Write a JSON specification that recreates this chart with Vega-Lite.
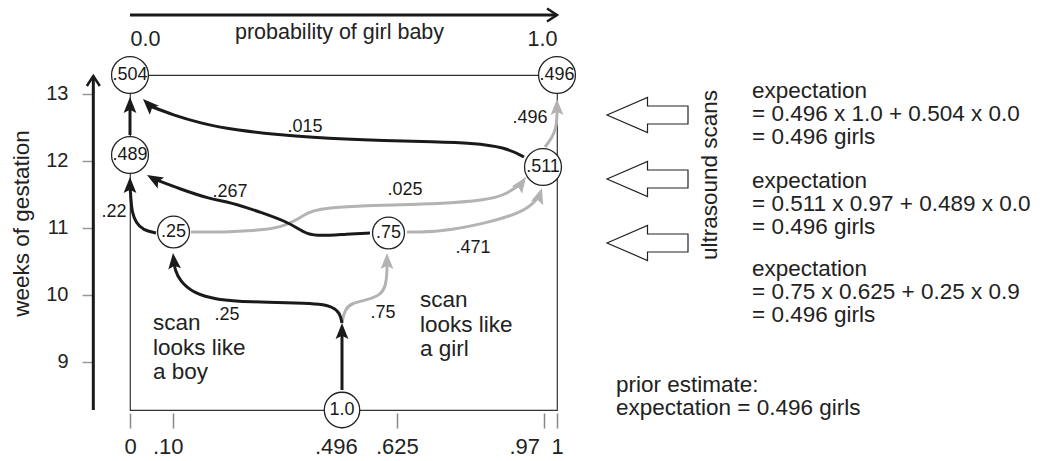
{
  "$schema": "https://vega.github.io/schema/vega-lite/v6.json",
  "width": 427,
  "height": 335,
  "autosize": {"type": "none"},
  "padding": {"left": 130, "top": 75, "right": 488, "bottom": 51},
  "background": "white",
  "config": {
    "font": "Liberation Sans",
    "view": {"stroke": "#333333", "strokeWidth": 1.2}
  },
  "datasets": {
    "edges": [
      {"edge": "e504", "kind": "boy", "x": 0, "y": 12.3845},
      {"edge": "e504", "kind": "boy", "x": 0, "y": 12.8173},
      {"edge": "e015", "kind": "boy", "x": 0.92272, "y": 12.0561},
      {"edge": "e015", "kind": "boy", "x": 0.87822, "y": 12.2054},
      {"edge": "e015", "kind": "boy", "x": 0.79625, "y": 12.2651},
      {"edge": "e015", "kind": "boy", "x": 0.726, "y": 12.28},
      {"edge": "e015", "kind": "boy", "x": 0.53864, "y": 12.3099},
      {"edge": "e015", "kind": "boy", "x": 0.39813, "y": 12.3546},
      {"edge": "e015", "kind": "boy", "x": 0.24122, "y": 12.4591},
      {"edge": "e015", "kind": "boy", "x": 0.16393, "y": 12.5636},
      {"edge": "e015", "kind": "boy", "x": 0.1007, "y": 12.683},
      {"edge": "e015", "kind": "boy", "x": 0.04684, "y": 12.8173},
      {"edge": "e496", "kind": "girl", "x": 0.9719, "y": 12.2054},
      {"edge": "e496", "kind": "girl", "x": 0.98829, "y": 12.3397},
      {"edge": "e496", "kind": "girl", "x": 0.99766, "y": 12.489},
      {"edge": "e496", "kind": "girl", "x": 1, "y": 12.6382},
      {"edge": "e496", "kind": "girl", "x": 1, "y": 12.8024},
      {"edge": "e22", "kind": "boy", "x": 0.06089, "y": 10.9218},
      {"edge": "e22", "kind": "boy", "x": 0.03044, "y": 10.9666},
      {"edge": "e22", "kind": "boy", "x": 0.01405, "y": 11.071},
      {"edge": "e22", "kind": "boy", "x": 0.00468, "y": 11.2352},
      {"edge": "e22", "kind": "boy", "x": 0.00234, "y": 11.4143},
      {"edge": "e22", "kind": "boy", "x": 0, "y": 11.6233},
      {"edge": "e267", "kind": "boy", "x": 0.56206, "y": 10.9218},
      {"edge": "e267", "kind": "boy", "x": 0.5082, "y": 10.9069},
      {"edge": "e267", "kind": "boy", "x": 0.44496, "y": 10.877},
      {"edge": "e267", "kind": "boy", "x": 0.41452, "y": 10.9069},
      {"edge": "e267", "kind": "boy", "x": 0.3911, "y": 10.9964},
      {"edge": "e267", "kind": "boy", "x": 0.36768, "y": 11.086},
      {"edge": "e267", "kind": "boy", "x": 0.31148, "y": 11.2203},
      {"edge": "e267", "kind": "boy", "x": 0.23419, "y": 11.3845},
      {"edge": "e267", "kind": "boy", "x": 0.18735, "y": 11.4293},
      {"edge": "e267", "kind": "boy", "x": 0.1171, "y": 11.5785},
      {"edge": "e267", "kind": "boy", "x": 0.05621, "y": 11.7278},
      {"edge": "e025", "kind": "girl", "x": 0.14286, "y": 10.9367},
      {"edge": "e025", "kind": "girl", "x": 0.23419, "y": 10.9367},
      {"edge": "e025", "kind": "girl", "x": 0.31148, "y": 10.9666},
      {"edge": "e025", "kind": "girl", "x": 0.35129, "y": 11.0113},
      {"edge": "e025", "kind": "girl", "x": 0.37471, "y": 11.071},
      {"edge": "e025", "kind": "girl", "x": 0.39813, "y": 11.1457},
      {"edge": "e025", "kind": "girl", "x": 0.41452, "y": 11.2203},
      {"edge": "e025", "kind": "girl", "x": 0.44496, "y": 11.28},
      {"edge": "e025", "kind": "girl", "x": 0.4918, "y": 11.3099},
      {"edge": "e025", "kind": "girl", "x": 0.58548, "y": 11.3397},
      {"edge": "e025", "kind": "girl", "x": 0.726, "y": 11.3546},
      {"edge": "e025", "kind": "girl", "x": 0.83607, "y": 11.4143},
      {"edge": "e025", "kind": "girl", "x": 0.87822, "y": 11.489},
      {"edge": "e025", "kind": "girl", "x": 0.91569, "y": 11.6531},
      {"edge": "e471", "kind": "girl", "x": 0.64871, "y": 10.9367},
      {"edge": "e471", "kind": "girl", "x": 0.726, "y": 10.9367},
      {"edge": "e471", "kind": "girl", "x": 0.83607, "y": 11.071},
      {"edge": "e471", "kind": "girl", "x": 0.91335, "y": 11.2203},
      {"edge": "e471", "kind": "girl", "x": 0.94379, "y": 11.3546},
      {"edge": "e471", "kind": "girl", "x": 0.95785, "y": 11.474},
      {"edge": "stem", "kind": "prior", "x": 0.49649, "y": 8.5785},
      {"edge": "stem", "kind": "prior", "x": 0.49649, "y": 9.3994},
      {"edge": "e25", "kind": "boy", "x": 0.49649, "y": 9.5785},
      {"edge": "e25", "kind": "boy", "x": 0.4918, "y": 9.7278},
      {"edge": "e25", "kind": "boy", "x": 0.47541, "y": 9.8173},
      {"edge": "e25", "kind": "boy", "x": 0.44496, "y": 9.8621},
      {"edge": "e25", "kind": "boy", "x": 0.39813, "y": 9.877},
      {"edge": "e25", "kind": "boy", "x": 0.28103, "y": 9.8919},
      {"edge": "e25", "kind": "boy", "x": 0.20375, "y": 9.9218},
      {"edge": "e25", "kind": "boy", "x": 0.14754, "y": 10.0263},
      {"edge": "e25", "kind": "boy", "x": 0.1171, "y": 10.2054},
      {"edge": "e25", "kind": "boy", "x": 0.10539, "y": 10.3696},
      {"edge": "e25", "kind": "boy", "x": 0.10304, "y": 10.489},
      {"edge": "e75", "kind": "girl", "x": 0.49649, "y": 9.5934},
      {"edge": "e75", "kind": "girl", "x": 0.50351, "y": 9.7875},
      {"edge": "e75", "kind": "girl", "x": 0.51991, "y": 9.877},
      {"edge": "e75", "kind": "girl", "x": 0.55504, "y": 9.9218},
      {"edge": "e75", "kind": "girl", "x": 0.58782, "y": 9.9964},
      {"edge": "e75", "kind": "girl", "x": 0.59953, "y": 10.1457},
      {"edge": "e75", "kind": "girl", "x": 0.60187, "y": 10.3397},
      {"edge": "e75", "kind": "girl", "x": 0.60187, "y": 10.489}
    ],
    "heads": [
      {"x": 0, "y": 12.9516, "heading": 0, "kind": "boy"},
      {"x": 0.03044, "y": 12.9218, "heading": 315, "kind": "boy"},
      {"x": 1, "y": 12.9218, "heading": 0, "kind": "girl"},
      {"x": 0, "y": 11.7576, "heading": 0, "kind": "boy"},
      {"x": 0.03981, "y": 11.7875, "heading": 300, "kind": "boy"},
      {"x": 0.9274, "y": 11.7576, "heading": 35, "kind": "girl"},
      {"x": 0.96487, "y": 11.5934, "heading": 18, "kind": "girl"},
      {"x": 0.1007, "y": 10.6233, "heading": 354, "kind": "boy"},
      {"x": 0.49649, "y": 9.5785, "heading": 0, "kind": "prior"},
      {"x": 0.60187, "y": 10.6233, "heading": 0, "kind": "girl"}
    ],
    "axisLines": [
      {"x": 0, "x2": 1, "y": 14.1755, "y2": 14.1755},
      {"x": -0.0859, "x2": -0.0859, "y": 8.28, "y2": 13.265}
    ],
    "axisHeads": [
      {"x": 1, "y": 14.1755, "heading": 90},
      {"x": -0.0859, "y": 13.265, "heading": 0}
    ],
    "nodes": [
      {"label": ".504", "x": 0, "y": 13.28},
      {"label": ".496", "x": 1, "y": 13.28},
      {"label": ".489", "x": 0, "y": 12.086},
      {"label": ".25", "x": 0.1019, "y": 10.9367},
      {"label": ".75", "x": 0.6054, "y": 10.9218},
      {"label": ".511", "x": 0.9672, "y": 11.9069},
      {"label": "1.0", "x": 0.4965, "y": 8.28}
    ],
    "edgeLabels": [
      {"t": ".015", "x": 0.40984, "y": 12.4293},
      {"t": ".267", "x": 0.23419, "y": 11.4591},
      {"t": ".025", "x": 0.64403, "y": 11.489},
      {"t": ".496", "x": 0.93677, "y": 12.5636},
      {"t": ".471", "x": 0.80328, "y": 10.6233},
      {"t": ".22", "x": -0.03747, "y": 11.1606},
      {"t": ".25", "x": 0.22717, "y": 9.6233},
      {"t": ".75", "x": 0.59251, "y": 9.6531}
    ],
    "notes": [
      {"t": "scan\nlooks like\na boy", "x": 0.05386, "y": 9.474},
      {"t": "scan\nlooks like\na girl", "x": 0.67916, "y": 9.8173}
    ],
    "sideNotes": [
      {"t": "expectation\n= 0.496 x 1.0 + 0.504 x 0.0\n= 0.496 girls", "x": 1.45667, "y": 12.9367},
      {"t": "expectation\n= 0.511 x 0.97 + 0.489 x 0.0\n= 0.496 girls", "x": 1.45667, "y": 11.5934},
      {"t": "expectation\n= 0.75 x 0.625 + 0.25 x 0.9\n= 0.496 girls", "x": 1.45667, "y": 10.28},
      {"t": "prior estimate:\nexpectation = 0.496 girls", "x": 1.13817, "y": 8.5487}
    ],
    "scanLabel": [
      {"t": "ultrasound scans", "x": 1.37471, "y": 11.7875}
    ],
    "scanArrows": [
      {"x": 1.21194, "y": 12.683},
      {"x": 1.21194, "y": 11.7278},
      {"x": 1.21194, "y": 10.7726}
    ]
  },
  "resolve": {"axis": {"x": "independent", "y": "independent"}},
  "layer": [
    {
      "data": {"name": "edges"},
      "transform": [{"filter": "datum.kind == 'girl'"}],
      "mark": {"type": "line", "interpolate": "basis", "strokeWidth": 3, "strokeCap": "butt"},
      "encoding": {
        "x": {"field": "x", "type": "quantitative", "scale": {"domain": [0, 1], "nice": false, "zero": false}, "axis": null},
        "y": {"field": "y", "type": "quantitative", "scale": {"domain": [8.28, 13.28], "nice": false, "zero": false}, "axis": null},
        "detail": {"field": "edge"},
        "order": {"value": null},
        "color": {"field": "kind", "type": "nominal", "scale": {"domain": ["boy", "girl", "prior"], "range": ["#1a1a1a", "#b3b3b3", "#1a1a1a"]}, "legend": null}
      }
    },
    {
      "data": {"name": "edges"},
      "transform": [{"filter": "datum.kind != 'girl'"}],
      "mark": {"type": "line", "interpolate": "basis", "strokeWidth": 3, "strokeCap": "butt"},
      "encoding": {
        "x": {"field": "x", "type": "quantitative", "scale": {"domain": [0, 1], "nice": false, "zero": false}, "axis": null},
        "y": {"field": "y", "type": "quantitative", "scale": {"domain": [8.28, 13.28], "nice": false, "zero": false}, "axis": null},
        "detail": {"field": "edge"},
        "order": {"value": null},
        "color": {"field": "kind", "type": "nominal", "scale": {"domain": ["boy", "girl", "prior"], "range": ["#1a1a1a", "#b3b3b3", "#1a1a1a"]}, "legend": null}
      }
    },
    {
      "data": {"name": "heads"},
      "mark": {"type": "point", "shape": "M0,0L0.4,1L0,0.8L-0.4,1Z", "filled": true, "size": 1024, "opacity": 1, "strokeWidth": 0},
      "encoding": {
        "x": {"field": "x", "type": "quantitative", "scale": {"domain": [0, 1], "nice": false, "zero": false}, "axis": null},
        "y": {"field": "y", "type": "quantitative", "scale": {"domain": [8.28, 13.28], "nice": false, "zero": false}, "axis": null},
        "angle": {"field": "heading", "type": "quantitative", "scale": null},
        "color": {"field": "kind", "type": "nominal", "scale": {"domain": ["boy", "girl", "prior"], "range": ["#1a1a1a", "#b3b3b3", "#1a1a1a"]}, "legend": null}
      }
    },
    {
      "data": {"name": "axisLines"},
      "mark": {"type": "rule", "strokeWidth": 3, "color": "#1a1a1a"},
      "encoding": {
        "x": {"field": "x", "type": "quantitative", "scale": {"domain": [0, 1], "nice": false, "zero": false},
          "axis": {"orient": "top", "offset": 30, "values": [0, 1], "labelExpr": "datum.value == 0 ? '0.0' : '1.0'", "domain": false, "ticks": false, "tickSize": 0, "grid": false, "labelPadding": 0, "labelFlush": true, "labelBaseline": "alphabetic", "labelFontSize": 21.5, "labelColor": "#222222",
            "title": "probability of girl baby", "titleFontSize": 21.5, "titleFontWeight": "normal", "titleColor": "#222222", "titleX": 209, "titleY": -7, "titleAlign": "center", "titleBaseline": "alphabetic", "titleAngle": 0}},
        "x2": {"field": "x2"},
        "y": {"field": "y", "type": "quantitative", "scale": {"domain": [8.28, 13.28], "nice": false, "zero": false}, "axis": null},
        "y2": {"field": "y2"}
      }
    },
    {
      "data": {"name": "axisHeads"},
      "mark": {"type": "point", "shape": "M-0.65,1L0,0L0.65,1", "filled": false, "size": 400, "opacity": 1, "stroke": "#1a1a1a", "strokeWidth": 2.5},
      "encoding": {
        "x": {"field": "x", "type": "quantitative", "scale": {"domain": [0, 1], "nice": false, "zero": false}, "axis": null},
        "y": {"field": "y", "type": "quantitative", "scale": {"domain": [8.28, 13.28], "nice": false, "zero": false}, "axis": null},
        "angle": {"field": "heading", "type": "quantitative", "scale": null}
      }
    },
    {
      "data": {"name": "nodes"},
      "mark": {"type": "point", "shape": "circle", "filled": true, "fill": "white", "stroke": "#222222", "strokeWidth": 1.3, "opacity": 1},
      "encoding": {
        "x": {"field": "x", "type": "quantitative", "scale": {"domain": [0, 1], "nice": false, "zero": false},
          "axis": {"orient": "bottom", "offset": 3, "values": [0, 0.1, 0.496, 0.625, 0.97, 1],
            "labelExpr": "datum.value == 0 ? '0' : datum.value == 0.1 ? '.10' : datum.value == 0.496 ? '.496' : datum.value == 0.625 ? '.625' : datum.value == 0.97 ? '.97' : '1'",
            "tickSize": 15, "tickColor": "#888888", "tickWidth": 1.5, "domain": false, "grid": false,
            "labelFontSize": 22, "labelPadding": 8, "labelColor": "#222222", "labelOverlap": false, "labelFlush": false, "labelBound": false,
            "labelOffset": {"condition": [{"test": "datum.value == 0.1", "value": -5}, {"test": "datum.value == 0.496", "value": -6}, {"test": "datum.value == 0.97", "value": -20}], "value": 0},
            "title": null}},
        "y": {"field": "y", "type": "quantitative", "scale": {"domain": [8.28, 13.28], "nice": false, "zero": false},
          "axis": {"orient": "left", "offset": 38, "values": [9, 10, 11, 12, 13], "tickSize": 10, "tickColor": "#999999", "tickWidth": 1.5, "domain": false, "grid": false,
            "labelFontSize": 20, "labelPadding": 14, "labelColor": "#222222",
            "title": "weeks of gestation", "titleFontSize": 22.5, "titleFontWeight": "normal", "titleColor": "#222222", "titleAngle": 270, "titleX": -64, "titleY": 148, "titleAlign": "center", "titleBaseline": "alphabetic"}},
        "size": {"condition": [{"test": "datum.label == '.25' || datum.label == '.75'", "value": 1018}, {"test": "datum.label == '1.0'", "value": 1257}], "value": 1360}
      }
    },
    {
      "data": {"name": "nodes"},
      "mark": {"type": "text", "fontSize": 18, "align": "center", "baseline": "middle", "color": "#1a1a1a"},
      "encoding": {
        "x": {"field": "x", "type": "quantitative", "scale": {"domain": [0, 1], "nice": false, "zero": false}, "axis": null},
        "y": {"field": "y", "type": "quantitative", "scale": {"domain": [8.28, 13.28], "nice": false, "zero": false}, "axis": null},
        "text": {"field": "label"}
      }
    },
    {
      "data": {"name": "edgeLabels"},
      "mark": {"type": "text", "fontSize": 18, "align": "center", "baseline": "alphabetic", "color": "#1a1a1a"},
      "encoding": {
        "x": {"field": "x", "type": "quantitative", "scale": {"domain": [0, 1], "nice": false, "zero": false}, "axis": null},
        "y": {"field": "y", "type": "quantitative", "scale": {"domain": [8.28, 13.28], "nice": false, "zero": false}, "axis": null},
        "text": {"field": "t"}
      }
    },
    {
      "data": {"name": "notes"},
      "mark": {"type": "text", "fontSize": 22.5, "align": "left", "baseline": "alphabetic", "lineBreak": "\n", "lineHeight": 24.5, "color": "#222222"},
      "encoding": {
        "x": {"field": "x", "type": "quantitative", "scale": {"domain": [0, 1], "nice": false, "zero": false}, "axis": null},
        "y": {"field": "y", "type": "quantitative", "scale": {"domain": [8.28, 13.28], "nice": false, "zero": false}, "axis": null},
        "text": {"field": "t"}
      }
    },
    {
      "data": {"name": "sideNotes"},
      "mark": {"type": "text", "fontSize": 22.5, "align": "left", "baseline": "alphabetic", "lineBreak": "\n", "lineHeight": 23, "color": "#222222"},
      "encoding": {
        "x": {"field": "x", "type": "quantitative", "scale": {"domain": [0, 1], "nice": false, "zero": false}, "axis": null},
        "y": {"field": "y", "type": "quantitative", "scale": {"domain": [8.28, 13.28], "nice": false, "zero": false}, "axis": null},
        "text": {"field": "t"}
      }
    },
    {
      "data": {"name": "scanLabel"},
      "mark": {"type": "text", "fontSize": 22.5, "align": "center", "baseline": "alphabetic", "angle": 270, "color": "#222222"},
      "encoding": {
        "x": {"field": "x", "type": "quantitative", "scale": {"domain": [0, 1], "nice": false, "zero": false}, "axis": null},
        "y": {"field": "y", "type": "quantitative", "scale": {"domain": [8.28, 13.28], "nice": false, "zero": false}, "axis": null},
        "text": {"field": "t"}
      }
    },
    {
      "data": {"name": "scanArrows"},
      "mark": {"type": "point", "shape": "M-1,0L0,-0.432L0,-0.222L1,-0.222L1,0.222L0,0.222L0,0.432Z", "filled": false, "size": 6561, "opacity": 1, "stroke": "#222222", "strokeWidth": 1.2},
      "encoding": {
        "x": {"field": "x", "type": "quantitative", "scale": {"domain": [0, 1], "nice": false, "zero": false}, "axis": null},
        "y": {"field": "y", "type": "quantitative", "scale": {"domain": [8.28, 13.28], "nice": false, "zero": false}, "axis": null}
      }
    }
  ]
}
